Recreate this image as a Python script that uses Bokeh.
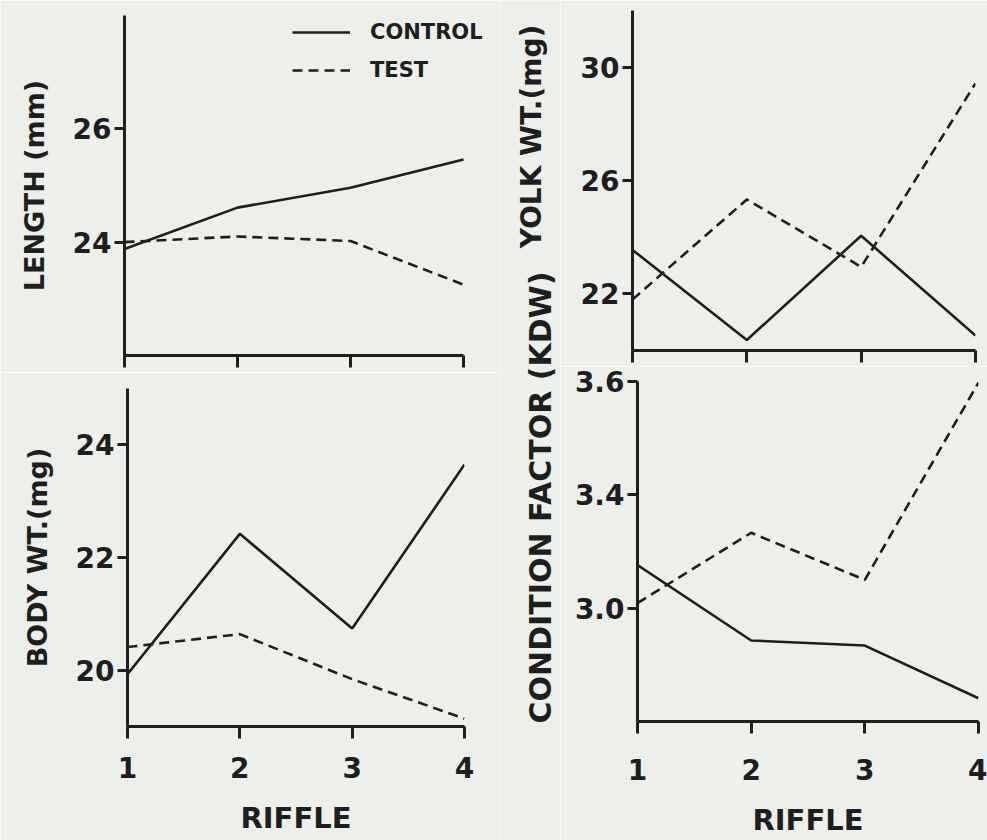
from bokeh.plotting import figure
from bokeh.models import (FixedTicker, Legend, LegendItem, Label, Range1d,
                          CustomLabelingPolicy)
from bokeh.layouts import row, column
from bokeh.embed import file_html
from bokeh.resources import INLINE

# ---------------- data ----------------
riffle = [1, 2, 3, 4]
x_tick_labels = ["1", "2", "3", "4"]

length_control = [23.88, 24.61, 24.96, 25.46]
length_test = [24.00, 24.10, 24.02, 23.25]

body_control = [19.93, 22.42, 20.74, 23.65]
body_test = [20.41, 20.64, 19.84, 19.14]

yolk_control = [23.55, 20.37, 24.05, 20.53]
yolk_test = [21.80, 25.33, 22.95, 29.43]

cond_control = [3.276, 3.143, 3.134, 3.041]
cond_test = [3.209, 3.333, 3.250, 3.598]

length_ticks = [24, 26]
body_ticks = [20, 22, 24]
yolk_ticks = [22, 26, 30]
cond_ticks = [3.2, 3.4, 3.6]
cond_tick_labels = ["3.0", "3.4", "3.6"]

series_names = ["CONTROL", "TEST"]

# ---------------- style ----------------
BG = "#edefea"
INK = "#1e1e1e"
FONT = "DejaVu Sans"
DASH = "10 6"
LW = 2.6

hide_all = CustomLabelingPolicy(code="""
for (const i of indices) { indices.unset(i) }
return indices
""")


def panel(frame_w, frame_h, left, right, top, bottom, yr, yticks,
          show_x_labels, ylabel=None, y_overrides=None,
          x_label_standoff=18, x_title_standoff=20, x_extra_px=0):
    # x_extra_px: empty room to the right of riffle 4 (axis itself stops at 4)
    span = max(riffle) - min(riffle)
    x_end = max(riffle) + x_extra_px * span / (frame_w - x_extra_px)
    p = figure(frame_width=frame_w, frame_height=frame_h,
               x_range=Range1d(min(riffle), x_end), y_range=Range1d(*yr),
               output_backend="svg", toolbar_location=None,
               min_border_left=left, min_border_right=right,
               min_border_top=top, min_border_bottom=bottom,
               background_fill_color=BG, border_fill_color=BG)
    p.outline_line_color = None
    p.grid.visible = False
    for ax in (p.xaxis[0], p.yaxis[0]):
        ax.axis_line_width = 3
        ax.axis_line_color = INK
        ax.major_tick_line_width = 3
        ax.major_tick_line_color = INK
        ax.major_tick_in = 0
        ax.minor_tick_line_color = None
        ax.major_label_text_font = FONT
        ax.major_label_text_font_style = "bold"
        ax.major_label_text_color = INK
        ax.major_label_text_font_size = "28px"
        ax.axis_label_text_font = FONT
        ax.axis_label_text_font_style = "bold"
        ax.axis_label_text_color = INK
    xa, ya = p.xaxis[0], p.yaxis[0]
    xa.ticker = FixedTicker(ticks=riffle)
    xa.bounds = (min(riffle), max(riffle))
    xa.major_label_overrides = {r: t for r, t in zip(riffle, x_tick_labels)}
    xa.major_tick_out = 12
    if show_x_labels:
        xa.major_label_standoff = x_label_standoff
        xa.axis_label = "RIFFLE"
        xa.axis_label_text_font_size = "29px"
        xa.axis_label_standoff = x_title_standoff
    else:
        xa.major_label_text_font_size = "1px"
        xa.major_label_standoff = 0
        xa.major_label_policy = hide_all
    ya.ticker = FixedTicker(ticks=yticks)
    ya.major_tick_out = 10
    ya.major_label_standoff = 3
    if y_overrides:
        ya.major_label_overrides = y_overrides
    if ylabel:
        ya.axis_label = ylabel
        ya.axis_label_text_font_size = "27px"
        ya.axis_label_standoff = 20
    return p


def draw(p, control, test):
    rc = p.line(riffle, control, line_color=INK, line_width=LW)
    rt = p.line(riffle, test, line_color=INK, line_width=LW, line_dash=DASH)
    return rc, rt


# top-left: length (frame widened to the right so the legend is not clipped)
tl = panel(371, 340, 124, 5, 15, 17, (22, 28), length_ticks, False,
           ylabel="LENGTH (mm)", x_extra_px=32)
rc, rt = draw(tl, length_control, length_test)
legend = Legend(items=[LegendItem(label=series_names[0], renderers=[rc]),
                       LegendItem(label=series_names[1], renderers=[rt])],
                location=(168, 273), orientation="vertical",
                glyph_width=58, glyph_height=24, label_height=24,
                label_standoff=20, spacing=14, padding=0, margin=0,
                border_line_color=None, background_fill_alpha=0,
                label_text_font=FONT, label_text_font_style="bold",
                label_text_font_size="21px", label_text_color=INK)
tl.add_layout(legend)

# bottom-left: body weight
bl = panel(337, 338, 127, 36, 16, 114, (19, 25), body_ticks, True,
           ylabel="BODY WT.(mg)", x_label_standoff=18, x_title_standoff=20)
draw(bl, body_control, body_test)

# top-right: yolk weight
tr = panel(343, 340, 72, 12, 10, 15, (20, 32), yolk_ticks, False)
draw(tr, yolk_control, yolk_test)

# bottom-right: condition factor
br = panel(341, 340, 77, 9, 15, 120, (3.0, 3.6), cond_ticks, True,
           y_overrides={v: t for v, t in zip(cond_ticks, cond_tick_labels)},
           x_label_standoff=25, x_title_standoff=20)
draw(br, cond_control, cond_test)

# strip holding the two right-hand axis titles (they cross panel borders)
strip = figure(width=60, height=840, x_range=Range1d(0, 1), y_range=Range1d(0, 1),
               x_axis_type=None, y_axis_type=None, min_border=0,
               output_backend="svg", toolbar_location=None,
               background_fill_color=BG, border_fill_color=BG)
strip.outline_line_color = None
strip.grid.visible = False
strip.add_layout(Label(x=31, y=704, x_units="screen", y_units="screen",
                       text="YOLK WT.(mg)", angle=90, angle_units="deg",
                       text_align="center", text_baseline="middle",
                       text_font=FONT, text_font_style="bold",
                       text_font_size="28px", text_color=INK))
strip.add_layout(Label(x=40, y=343, x_units="screen", y_units="screen",
                       text="CONDITION FACTOR (KDW)", angle=90, angle_units="deg",
                       text_align="center", text_baseline="middle",
                       text_font=FONT, text_font_style="bold",
                       text_font_size="30px", text_color=INK))

layout = row(column(row(tl), row(bl)), strip, column(row(tr), row(br)))

open("out.html", "w").write(file_html(layout, INLINE))
